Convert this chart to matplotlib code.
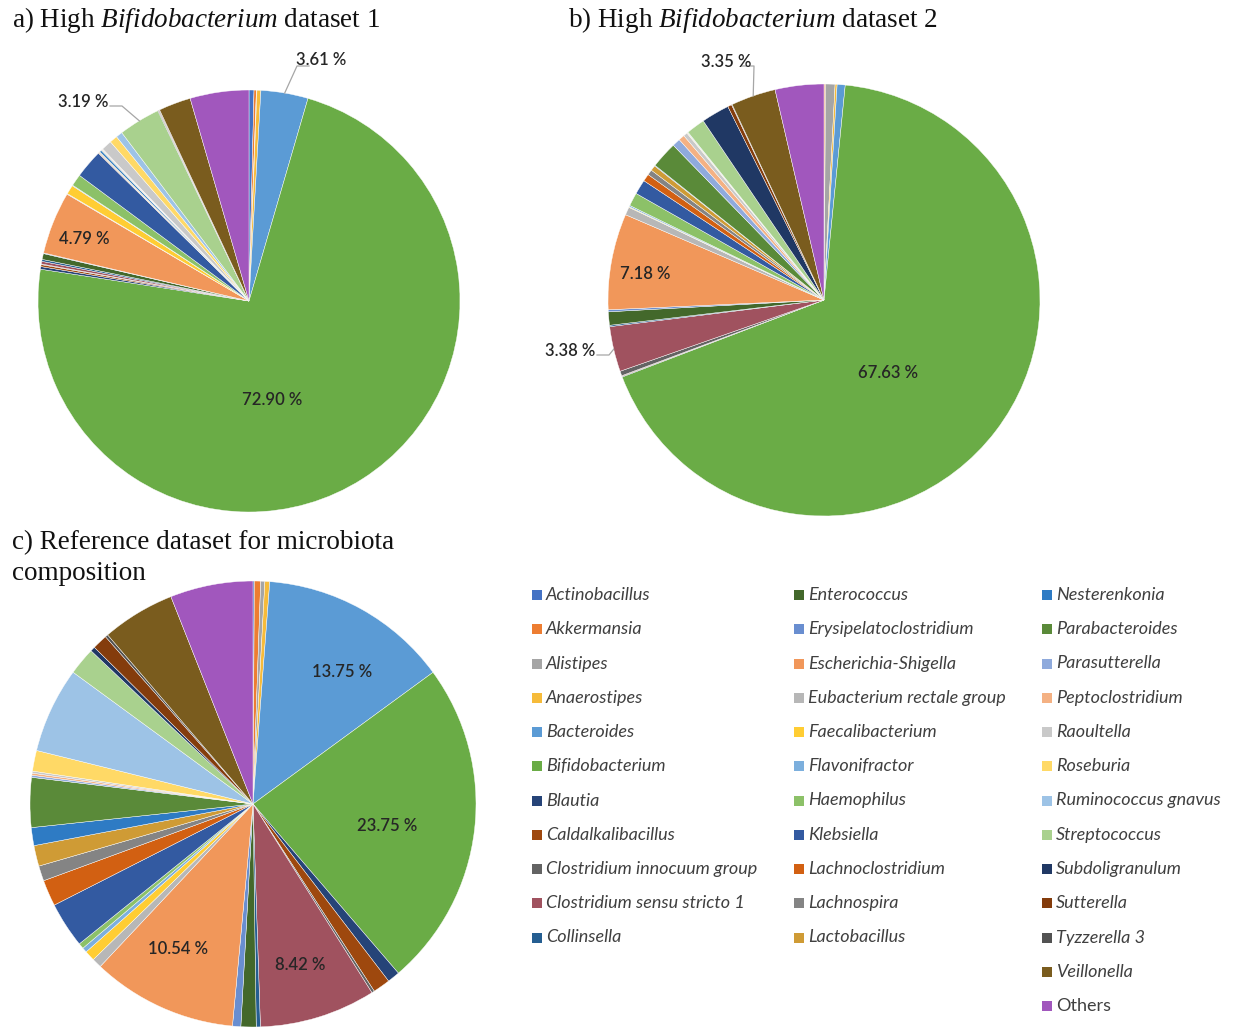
import matplotlib
matplotlib.use("Agg")
import matplotlib.pyplot as plt
from matplotlib.patches import Rectangle
import numpy as np

# ---------------- data ----------------
genera = [
    "Actinobacillus", "Akkermansia", "Alistipes", "Anaerostipes", "Bacteroides",
    "Bifidobacterium", "Blautia", "Caldalkalibacillus", "Clostridium innocuum group",
    "Clostridium sensu stricto 1", "Collinsella", "Enterococcus", "Erysipelatoclostridium",
    "Escherichia-Shigella", "Eubacterium rectale group", "Faecalibacterium", "Flavonifractor",
    "Haemophilus", "Klebsiella", "Lachnoclostridium", "Lachnospira", "Lactobacillus",
    "Nesterenkonia", "Parabacteroides", "Parasutterella", "Peptoclostridium", "Raoultella",
    "Roseburia", "Ruminococcus gnavus", "Streptococcus", "Subdoligranulum", "Sutterella",
    "Tyzzerella 3", "Veillonella", "Others",
]

colors = [
    "#4472C4", "#ED7D31", "#A5A5A5", "#F6BB3A", "#5B9BD5",
    "#6AAC46", "#264478", "#9E480E", "#636363",
    "#A0525F", "#255E91", "#43682B", "#698ED0",
    "#F1975A", "#B7B7B7", "#FFCD33", "#7CAFDD",
    "#8CC168", "#335AA1", "#D26012", "#848484", "#CF9B35",
    "#2E7BC4", "#5A8A39", "#8FAADC", "#F4B183", "#C9C9C9",
    "#FFD966", "#9DC3E6", "#A9D18E", "#203864", "#843C0C",
    "#525252", "#7A5C1E", "#A157BD",
]

dataset1 = [0.38, 0.18, 0.04, 0.30, 3.61, 72.90, 0.20, 0.15, 0.05, 0.20, 0.15, 0.45, 0.05,
            4.79, 0.05, 0.70, 0.05, 0.90, 2.20, 0.05, 0.05, 0.05, 0.15, 0.05, 0.05, 0.05,
            0.80, 0.60, 0.50, 3.19, 0.05, 0.05, 0.05, 2.46, 4.50]

dataset2 = [0.02, 0.10, 0.70, 0.15, 0.60, 67.63, 0.05, 0.05, 0.35, 3.38, 0.10, 1.00, 0.15,
            7.18, 0.60, 0.05, 0.10, 1.00, 1.10, 0.55, 0.40, 0.40, 0.05, 2.00, 0.60, 0.45,
            0.30, 0.05, 0.05, 1.40, 2.10, 0.30, 0.05, 3.35, 3.64]

reference = [0.10, 0.45, 0.30, 0.35, 13.75, 23.75, 0.90, 1.25, 0.20, 8.42, 0.30, 1.10, 0.60,
             10.54, 0.70, 0.75, 0.35, 0.40, 3.30, 1.90, 1.10, 1.50, 1.30, 3.60, 0.15, 0.15,
             0.15, 1.50, 6.20, 2.00, 0.34, 1.10, 0.20, 5.30, 6.00]

titles = [r"a) High $\mathit{Bifidobacterium}$ dataset 1",
          r"b) High $\mathit{Bifidobacterium}$ dataset 2",
          "c) Reference dataset for microbiota\ncomposition"]

# labelled slices: (genus, label pixel position, leader elbow pixel or None)
labels1 = [("Bifidobacterium", (272, 400), None), ("Escherichia-Shigella", (84, 239), None),
           ("Bacteroides", (321, 60), (297, 66)), ("Streptococcus", (83, 102), (122, 106))]
labels2 = [("Bifidobacterium", (888, 373), None), ("Escherichia-Shigella", (645, 274), None),
           ("Clostridium sensu stricto 1", (570, 351), (609, 355)),
           ("Veillonella", (726, 62), (754, 66))]
labels3 = [("Bacteroides", (342, 672), None), ("Bifidobacterium", (387, 826), None),
           ("Escherichia-Shigella", (178, 949), None), ("Clostridium sensu stricto 1", (300, 965), None)]

# ---------------- layout ----------------
W, H = 1234, 1027
plt.rcParams["mathtext.fontset"] = "custom"
plt.rcParams["mathtext.it"] = "Liberation Serif:italic"
plt.rcParams["mathtext.rm"] = "Liberation Serif"

fig = plt.figure(figsize=(W / 100, H / 100), dpi=100)
fig.patch.set_facecolor("white")

LABEL_FONT = dict(family="Lato", fontsize=12, weight="semibold", color="#262626")


def draw_pie(values, cx, cy, r, labels):
    ax = fig.add_axes([(cx - r) / W, (H - cy - r) / H, 2 * r / W, 2 * r / H])
    wedges, _ = ax.pie(values, colors=colors, startangle=90, counterclock=False,
                       wedgeprops=dict(edgecolor="white", linewidth=0.3))
    ax.set_xlim(-1, 1)
    ax.set_ylim(-1, 1)
    ax.set_aspect("equal")
    ax.axis("off")

    def to_data(p):
        return ((p[0] - cx) / r, (cy - p[1]) / r)

    for name, pos, elbow in labels:
        i = genera.index(name)
        txt = f"{values[i]:.2f} %"
        x, y = to_data(pos)
        ax.text(x, y, txt, ha="center", va="center", clip_on=False, **LABEL_FONT)
        if elbow is not None:
            w = wedges[i]
            ang = np.deg2rad((w.theta1 + w.theta2) / 2)
            rim = (np.cos(ang), np.sin(ang))
            ex, ey = to_data(elbow)
            if abs(ex - x) * r > 20:  # horizontal leader first
                sx = ex - 12 / r if ex > x else ex + 12 / r
                pts = [(sx, ey), (ex, ey), rim]
            else:
                pts = [(ex, ey), rim]
            xs, ys = zip(*pts)
            ax.plot(xs, ys, color="#A6A6A6", lw=0.9, clip_on=False)
    return ax


draw_pie(dataset1, 249, 301, 211, labels1)
draw_pie(dataset2, 824, 300, 216, labels2)
draw_pie(reference, 253, 804, 223, labels3)

TITLE_FONT = dict(family="Liberation Serif", fontsize=19.5, color="#111111")
fig.text(12 / W, 1 - 20 / H, titles[0], ha="left", va="center", **TITLE_FONT)
fig.text(568 / W, 1 - 20 / H, titles[1], ha="left", va="center", **TITLE_FONT)
fig.text(12 / W, 1 - 558 / H, titles[2], ha="left", va="center", linespacing=1.27, **TITLE_FONT)

# ---------------- legend (3 columns, column-major) ----------------
col_sizes = [11, 11, 13]
col_x = [532, 794, 1042]
row_y0, row_dy = 595, 34.25
sq = 10
k = 0
for c, n in enumerate(col_sizes):
    for j in range(n):
        name = genera[k]
        y = row_y0 + j * row_dy
        fig.patches.append(Rectangle(((col_x[c]) / W, 1 - (y + sq / 2) / H), sq / W, sq / H,
                                     transform=fig.transFigure, facecolor=colors[k],
                                     edgecolor="none"))
        fig.text((col_x[c] + sq + 4) / W, 1 - y / H, name, ha="left", va="center",
                 family="Lato", fontsize=13, color="#404040",
                 style="normal" if name == "Others" else "italic")
        k += 1

fig.savefig("out.png", dpi=100, facecolor="white")
